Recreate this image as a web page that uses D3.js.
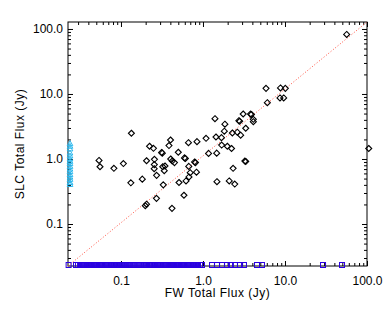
<!DOCTYPE html>
<html>
<head>
<meta charset="utf-8">
<script src="https://cdn.jsdelivr.net/npm/d3@7"></script>
<style>
  body { margin: 0; background: #fff; }
  text { font-family: "Liberation Sans", Arial, sans-serif; fill: #000; }
</style>
</head>
<body>
<div id="chart"></div>
<script>
// detected in both surveys: FW flux, SLC flux (Jy)
const fwFlux = [0.134, 0.054, 0.0555, 0.082, 0.107, 0.132, 0.182, 0.205, 0.223, 0.249,
  0.256, 0.255, 0.254, 0.272, 0.313, 0.319, 0.323, 0.344, 0.337, 0.402,
  0.385, 0.404, 0.422, 0.449, 0.50, 0.328, 0.271, 0.205, 0.198, 0.419,
  0.51, 1.40, 1.85, 2.74, 2.80, 3.09, 3.80, 3.90, 4.11, 4.11,
  1.82, 2.28, 2.62, 2.88, 3.32, 1.09, 1.44, 1.68, 0.665, 0.845,
  1.69, 1.98, 2.23, 1.17, 1.47, 0.595, 0.61, 0.79, 0.81, 3.24,
  3.32, 0.671, 0.698, 0.833, 2.33, 0.675, 0.621, 1.48, 2.09, 2.44,
  0.586, 56.5, 5.87, 8.81, 10.1, 8.69, 9.64, 6.09, 105]
const slcFlux = [2.49, 0.95, 0.76, 0.72, 0.85, 0.43, 0.49, 0.94, 1.57, 1.46,
  0.99, 0.82, 0.71, 0.56, 1.26, 1.23, 0.76, 0.78, 0.66, 1.96,
  1.61, 1.0, 0.93, 0.88, 1.27, 0.40, 0.248, 0.202, 0.191, 0.174,
  0.435, 4.17, 3.43, 3.88, 3.80, 4.92, 4.90, 4.84, 4.08, 3.75,
  2.68, 2.51, 2.58, 2.32, 2.97, 2.08, 2.18, 2.13, 1.78, 1.85,
  1.64, 1.57, 1.45, 1.22, 1.23, 1.04, 1.02, 0.90, 0.88, 0.93,
  0.915, 0.77, 0.615, 0.627, 0.72, 0.53, 0.459, 0.448, 0.459, 0.412,
  0.277, 82.3, 12.2, 12.4, 12.2, 8.68, 8.68, 7.35, 1.45]

// SLC only (plotted at the left edge)
const slcOnlyFlux = [1.70, 1.55, 1.41, 1.22, 1.10, 0.99, 0.91, 0.84, 0.76, 0.69,
  0.63, 0.57, 0.52, 0.48, 0.43, 0.40]

// FW only (plotted at the bottom edge)
const fwOnlyFlux = [0.023, 0.0283, 0.0299, 0.0316, 0.0335, 0.0354, 0.0374, 0.0396, 0.0419,
  0.0443, 0.0469, 0.0496, 0.0524, 0.0555, 0.0587, 0.062, 0.0656, 0.0694, 0.0734,
  0.0777, 0.0822, 0.0869, 0.0919, 0.0972, 0.103, 0.109, 0.115, 0.122, 0.129,
  0.136, 0.144, 0.152, 0.161, 0.171, 0.180, 0.191, 0.202, 0.213, 0.226,
  0.239, 0.253, 0.267, 0.283, 0.299, 0.316, 0.335, 0.354, 0.374, 0.396,
  0.419, 0.443, 0.469, 0.496, 0.524, 0.555, 0.587, 0.62, 0.656, 0.694,
  0.734, 0.777, 0.822, 0.869, 0.919, 0.972,
  1.29, 1.48, 1.71, 1.96, 2.19, 2.46, 2.82, 3.16, 4.56, 5.24, 29.1, 49.6]

const majorTicks = [0.1, 1, 10, 100]
const tickLabels = ["0.1", "1.0", "10.0", "100.0"]
const minorTicks = [0.03, 0.04, 0.05, 0.06, 0.07, 0.08, 0.09,
  0.2, 0.3, 0.4, 0.5, 0.6, 0.7, 0.8, 0.9,
  2, 3, 4, 5, 6, 7, 8, 9,
  20, 30, 40, 50, 60, 70, 80, 90]

const fluxMin = 0.0226
const xMax = 100
const yMax = 128

const width = 388, height = 310
const margin = { top: 22, right: 21, bottom: 44, left: 68 }
const w = width - margin.left - margin.right
const h = height - margin.top - margin.bottom

const svg = d3.select("#chart")
  .append("svg")
  .attr("width", width)
  .attr("height", height)

const g = svg.append("g")
  .attr("transform", `translate(${margin.left},${margin.top})`)

const x = d3.scaleLog().domain([fluxMin, xMax]).range([0, w])
const y = d3.scaleLog().domain([fluxMin, yMax]).range([h, 0])

const fmt = d => tickLabels[majorTicks.indexOf(d)]

// axes: labelled bottom/left, bare top/right
function styleAxis(sel) {
  sel.select(".domain").remove()
  sel.selectAll(".tick line").attr("stroke", "#000")
  sel.selectAll(".tick text").style("font-size", "12px")
}
g.append("g").attr("transform", `translate(0,${h})`)
  .call(d3.axisBottom(x).tickValues(majorTicks).tickFormat(fmt).tickSize(-5).tickPadding(10))
  .call(styleAxis)
g.append("g").attr("transform", `translate(0,${h})`)
  .call(d3.axisBottom(x).tickValues(minorTicks).tickFormat("").tickSize(-3))
  .call(styleAxis)
g.append("g")
  .call(d3.axisTop(x).tickValues(majorTicks).tickFormat("").tickSize(-5))
  .call(styleAxis)
g.append("g")
  .call(d3.axisTop(x).tickValues(minorTicks).tickFormat("").tickSize(-3))
  .call(styleAxis)

g.append("g")
  .call(d3.axisLeft(y).tickValues(majorTicks).tickFormat(fmt).tickSize(-5).tickPadding(5))
  .call(styleAxis)
g.append("g")
  .call(d3.axisLeft(y).tickValues(minorTicks).tickFormat("").tickSize(-3))
  .call(styleAxis)
g.append("g").attr("transform", `translate(${w},0)`)
  .call(d3.axisRight(y).tickValues(majorTicks).tickFormat("").tickSize(-5))
  .call(styleAxis)
g.append("g").attr("transform", `translate(${w},0)`)
  .call(d3.axisRight(y).tickValues(minorTicks).tickFormat("").tickSize(-3))
  .call(styleAxis)

g.append("rect")
  .attr("width", w).attr("height", h)
  .attr("fill", "none").attr("stroke", "#000").attr("stroke-width", 1)

// diagonal reference line, corner to corner
g.append("path")
  .datum([[fluxMin, fluxMin], [xMax, yMax]])
  .attr("fill", "none")
  .attr("stroke", "#ff5040")
  .attr("stroke-width", 1)
  .attr("stroke-dasharray", "1,2")
  .attr("d", d3.line().x(d => x(d[0])).y(d => y(d[1])))

// FW-only: blue squares on the floor
g.selectAll(".fwonly")
  .data(fwOnlyFlux)
  .join("rect")
  .attr("x", d => x(d) - 2.5)
  .attr("y", y(fluxMin) - 3.5)
  .attr("width", 5).attr("height", 5)
  .attr("fill", "none")
  .attr("stroke", "#2a00e0")
  .attr("stroke-width", 1)

// SLC-only: cyan triangles on the left wall
const tri = d3.symbol().type(d3.symbolTriangle).size(14)
g.selectAll(".slconly")
  .data(slcOnlyFlux)
  .join("path")
  .attr("d", tri)
  .attr("transform", d => `translate(${x(fluxMin) + 2},${y(d)})`)
  .attr("fill", "none")
  .attr("stroke", "#2ab8ee")
  .attr("stroke-width", 1)

// matched sources: diamonds
const pts = fwFlux.map((f, i) => [f, slcFlux[i]])
g.selectAll(".pt")
  .data(pts)
  .join("path")
  .attr("d", "M0,-3L3,0L0,3L-3,0Z")
  .attr("transform", d => `translate(${x(d[0])},${y(d[1])})`)
  .attr("fill", "none")
  .attr("stroke", "#000")
  .attr("stroke-width", 1.1)

// axis titles
svg.append("text")
  .attr("x", margin.left + w / 2)
  .attr("y", 297)
  .attr("text-anchor", "middle")
  .style("font-size", "12px")
  .style("letter-spacing", "0.5px")
  .text("FW Total Flux (Jy)")

svg.append("text")
  .attr("transform", `translate(24,${margin.top + h / 2}) rotate(-90)`)
  .attr("text-anchor", "middle")
  .style("font-size", "12px")
  .style("letter-spacing", "0.5px")
  .text("SLC Total Flux (Jy)")
</script>
</body>
</html>
